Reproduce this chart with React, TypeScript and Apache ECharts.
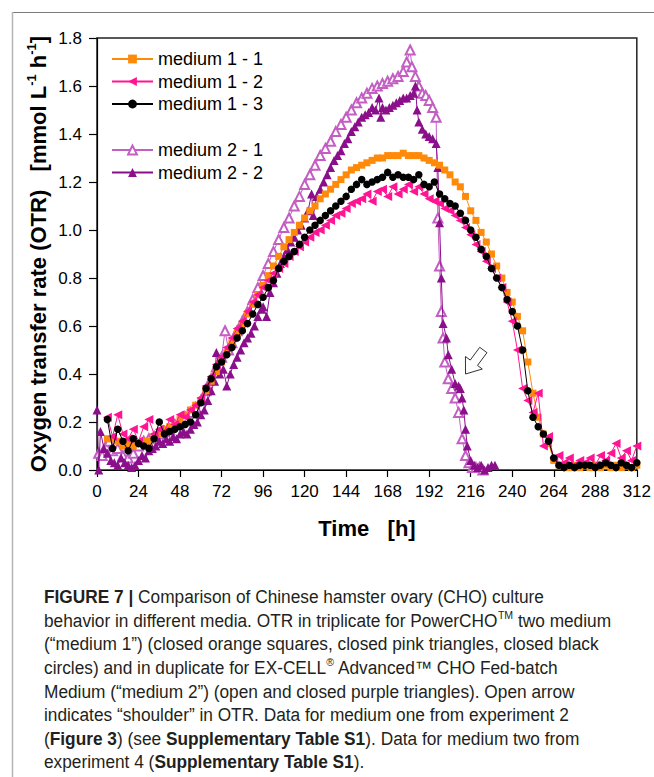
import React, { useEffect, useRef } from 'react';
import * as echarts from 'echarts';

// ---- axes ----
const X_MIN = 0;
const X_MAX = 312;
const X_INTERVAL = 24;
const Y_MIN = 0;
const Y_MAX = 1.8;
const Y_INTERVAL = 0.2;

// ---- medium 1 series: sampled every 3 h starting at 6 h ----
const M1_START = 6;
const M1_STEP = 3;

const MEDIUM_1_1 = [
  0.13, 0.13, 0.12, 0.10, 0.11, 0.10, 0.11, 0.12, 0.12, 0.14,
  0.15, 0.17, 0.18, 0.19, 0.21, 0.23, 0.25, 0.27, 0.29, 0.33,
  0.37, 0.41, 0.45, 0.49, 0.53, 0.57, 0.61, 0.65, 0.69, 0.73,
  0.77, 0.81, 0.85, 0.89, 0.93, 0.96, 0.99, 1.02, 1.05, 1.08,
  1.10, 1.13, 1.15, 1.17, 1.19, 1.21, 1.23, 1.25, 1.26, 1.27,
  1.28, 1.29, 1.30, 1.30, 1.31, 1.31, 1.31, 1.32, 1.31, 1.31,
  1.31, 1.30, 1.29, 1.28, 1.27, 1.25, 1.23, 1.20, 1.18, 1.14,
  1.08, 1.04, 0.99, 0.95, 0.90, 0.85, 0.80, 0.74, 0.70, 0.64,
  0.58, 0.45, 0.32, 0.22, 0.15, 0.11, 0.04, 0.02, 0.02, 0.01,
  0.02, 0.01, 0.02, 0.01, 0.02, 0.01, 0.02, 0.01, 0.02, 0.01,
  0.02, 0.01, 0.02,
];

const MEDIUM_1_2 = [
  0.22, 0.14, 0.23, 0.15, 0.13, 0.17, 0.12, 0.18, 0.21, 0.15,
  0.17, 0.16, 0.21, 0.19, 0.23, 0.22, 0.25, 0.27, 0.30, 0.35,
  0.39, 0.44, 0.47, 0.51, 0.55, 0.59, 0.62, 0.66, 0.70, 0.73,
  0.76, 0.79, 0.82, 0.84, 0.86, 0.89, 0.91, 0.93, 0.95, 0.97,
  0.99, 1.00, 1.02, 1.04, 1.06, 1.07, 1.09, 1.11, 1.12, 1.13,
  1.15, 1.12, 1.16, 1.17, 1.14, 1.18, 1.15, 1.17, 1.19, 1.16,
  1.18, 1.15, 1.13, 1.12, 1.11, 1.09, 1.08, 1.06, 1.04, 1.01,
  0.98, 0.94, 0.91, 0.87, 0.84, 0.80, 0.76, 0.70, 0.62, 0.50,
  0.34, 0.29, 0.24, 0.32, 0.10, 0.14, 0.05, 0.06, 0.03, 0.05,
  0.02, 0.04, 0.03, 0.05, 0.02, 0.06, 0.04, 0.07, 0.11, 0.05,
  0.08, 0.04, 0.10,
];

const MEDIUM_1_3 = [
  0.21, 0.09, 0.17, 0.12, 0.08, 0.13, 0.11, 0.10, 0.09, 0.13,
  0.20, 0.15, 0.16, 0.17, 0.18, 0.19, 0.20, 0.23, 0.28, 0.34,
  0.38, 0.43, 0.45, 0.48, 0.51, 0.55, 0.58, 0.61, 0.65, 0.69,
  0.72, 0.76, 0.79, 0.84, 0.87, 0.89, 0.91, 0.94, 0.97, 1.00,
  1.02, 1.04, 1.06, 1.08, 1.10, 1.12, 1.14, 1.17, 1.19, 1.21,
  1.19, 1.20, 1.21, 1.22, 1.24, 1.22, 1.23, 1.22, 1.22, 1.21,
  1.23, 1.19, 1.18, 1.20, 1.15, 1.13, 1.11, 1.10, 1.07, 1.04,
  1.00, 0.97, 0.92, 0.89, 0.84, 0.80, 0.76, 0.71, 0.66, 0.60,
  0.50, 0.33, 0.22, 0.18, 0.15, 0.12, 0.05, 0.02, 0.01, 0.02,
  0.01, 0.02, 0.02, 0.02, 0.01, 0.02, 0.03, 0.02, 0.01, 0.03,
  0.02, 0.01, 0.03,
];

// ---- medium 2 series: [time h, OTR] ----
const MEDIUM_2_1: [number, number][] = [
  [1, 0.07], [3, 0.06], [5, 0.10], [7, 0.12], [9, 0.08], [12, 0.09], [15, 0.06], [18, 0.05],
  [21, 0.07], [24, 0.10], [27, 0.12], [30, 0.13], [33, 0.14], [36, 0.15], [39, 0.16], [42, 0.17],
  [45, 0.19], [48, 0.20], [51, 0.22], [54, 0.24], [57, 0.26], [60, 0.29], [63, 0.33], [66, 0.38],
  [69, 0.43], [72, 0.47], [74, 0.58], [76, 0.50], [78, 0.53], [81, 0.58], [84, 0.62], [87, 0.66],
  [90, 0.71], [93, 0.76], [96, 0.81], [99, 0.86], [102, 0.91], [105, 0.96], [108, 1.01], [111, 1.05],
  [114, 1.10], [117, 1.14], [120, 1.19], [123, 1.23], [126, 1.27], [129, 1.31], [132, 1.34], [135, 1.37],
  [138, 1.41], [141, 1.44], [144, 1.47], [147, 1.50], [150, 1.53], [153, 1.55], [156, 1.57], [159, 1.59],
  [162, 1.60], [165, 1.61], [168, 1.62], [171, 1.63], [174, 1.64], [177, 1.66], [179, 1.70], [181, 1.75],
  [182, 1.68], [184, 1.64], [186, 1.60], [188, 1.57], [190, 1.56], [192, 1.54], [194, 1.51], [196, 1.47],
  [197, 1.05], [198, 0.85], [199, 0.66], [200, 0.55], [201, 0.45], [203, 0.38], [205, 0.34], [207, 0.30],
  [209, 0.24], [211, 0.13], [213, 0.06], [215, 0.03], [217, 0.01], [219, 0.01], [221, 0.01], [223, 0.00],
];

const MEDIUM_2_2: [number, number][] = [
  [0, 0.25], [1, 0.00], [2, 0.16], [4, 0.09], [6, 0.07], [8, 0.04], [10, 0.03], [12, 0.02],
  [14, 0.05], [16, 0.03], [18, 0.02], [20, 0.01], [22, 0.02], [24, 0.04], [26, 0.06], [28, 0.05],
  [30, 0.08], [32, 0.09], [34, 0.10], [36, 0.12], [38, 0.11], [40, 0.13], [42, 0.12], [44, 0.14],
  [46, 0.13], [48, 0.15], [50, 0.16], [52, 0.15], [54, 0.17], [56, 0.19], [58, 0.20], [60, 0.23],
  [62, 0.25], [64, 0.29], [66, 0.33], [68, 0.37], [69, 0.49], [71, 0.40], [73, 0.42], [75, 0.35],
  [77, 0.40], [79, 0.44], [81, 0.47], [83, 0.50], [85, 0.53], [87, 0.55], [89, 0.57], [91, 0.60],
  [93, 0.64], [95, 0.67], [96, 0.68], [98, 0.64], [100, 0.74], [102, 0.78], [104, 0.82], [106, 0.86],
  [108, 0.89], [110, 0.92], [112, 0.95], [114, 0.97], [116, 1.00], [118, 1.02], [120, 1.05], [122, 1.08],
  [124, 1.15], [125, 1.06], [127, 1.14], [129, 1.17], [131, 1.20], [133, 1.23], [135, 1.26], [137, 1.29],
  [139, 1.31], [141, 1.33], [143, 1.36], [145, 1.38], [147, 1.41], [149, 1.43], [151, 1.45], [153, 1.47],
  [155, 1.48], [157, 1.49], [159, 1.51], [161, 1.50], [163, 1.55], [164, 1.47], [165, 1.51], [167, 1.50],
  [169, 1.51], [171, 1.52], [173, 1.53], [175, 1.54], [177, 1.55], [179, 1.55], [181, 1.56], [183, 1.57],
  [184, 1.60], [185, 1.50], [186, 1.45], [188, 1.42], [190, 1.40], [192, 1.39], [194, 1.38], [196, 1.36],
  [197, 1.26], [198, 1.03], [199, 0.80], [200, 0.61], [202, 0.55], [203, 0.48], [205, 0.42], [207, 0.36],
  [209, 0.35], [210, 0.34], [211, 0.30], [212, 0.25], [213, 0.17], [214, 0.10], [216, 0.04], [218, 0.02],
  [220, 0.01], [222, 0.02], [224, 0.00], [226, 0.01], [228, 0.02], [230, 0.02],
];

const NAMES = ['medium 1 - 1', 'medium 1 - 2', 'medium 1 - 3', 'medium 2 - 1', 'medium 2 - 2'];

// annotation arrow (data coords of tip and tail)
const ARROW_TIP: [number, number] = [213, 0.40];
const ARROW_TAIL: [number, number] = [223.3, 0.50];

const CAPTION_LINES = [
  '{b|FIGURE 7 |}{n| Comparison of Chinese hamster ovary (CHO) culture}',
  '{n|behavior in different media. OTR in triplicate for PowerCHO}{s|TM}{n| two medium}',
  '{n|(\u201cmedium 1\u201d) (closed orange squares, closed pink triangles, closed black}',
  '{n|circles) and in duplicate for EX-CELL}{s|\u00ae}{n| Advanced\u2122 CHO Fed-batch}',
  '{n|Medium (\u201cmedium 2\u201d) (open and closed purple triangles). Open arrow}',
  '{n|indicates \u201cshoulder\u201d in OTR. Data for medium one from experiment 2}',
  '{n|(}{b|Figure 3}{n|) (see }{b|Supplementary Table S1}{n|). Data for medium two from}',
  '{n|experiment 4 (}{b|Supplementary Table S1}{n|).}',
];

const FONT = '"Liberation Sans", Arial, Helvetica, sans-serif';

function gridSeries(start: number, step: number, vals: number[]): [number, number][] {
  return vals.map((v, i) => [start + i * step, v]);
}

function buildOption(): any {
  const common = {
    type: 'line',
    showSymbol: true,
    lineStyle: { width: 1 },
    emphasis: { disabled: true },
  };
  const legendBase = {
    orient: 'vertical',
    left: 106,
    itemWidth: 41,
    itemHeight: 11,
    itemGap: 4.5,
    textStyle: { fontSize: 18, color: '#000', fontFamily: FONT },
    selectedMode: false,
  };
  return {
    animation: false,
    backgroundColor: '#ffffff',
    grid: {
      left: 97,
      top: 38,
      width: 540,
      height: 432,
      show: true,
      borderColor: '#222',
      borderWidth: 1.5,
      backgroundColor: 'transparent',
    },
    legend: [
      { ...legendBase, data: NAMES.slice(0, 3), top: 45 },
      { ...legendBase, data: NAMES.slice(3), top: 136 },
    ],
    xAxis: {
      type: 'value',
      min: X_MIN,
      max: X_MAX,
      interval: X_INTERVAL,
      axisLine: { show: true, onZero: false, lineStyle: { color: '#000', width: 1.2 } },
      axisTick: { show: true, inside: false, length: 7, lineStyle: { color: '#000', width: 1.2 } },
      axisLabel: { fontSize: 17, color: '#000', fontFamily: FONT, margin: 13 },
      splitLine: { show: false },
    },
    yAxis: {
      type: 'value',
      min: Y_MIN,
      max: Y_MAX,
      interval: Y_INTERVAL,
      axisLine: { show: true, onZero: false, lineStyle: { color: '#000', width: 1.2 } },
      axisTick: { show: true, inside: false, length: 8, lineStyle: { color: '#000', width: 1.2 } },
      axisLabel: {
        fontSize: 17,
        color: '#000',
        fontFamily: FONT,
        margin: 15,
        formatter: (v: number) => v.toFixed(1),
      },
      splitLine: { show: false },
    },
    series: [
      {
        ...common,
        name: NAMES[3],
        data: MEDIUM_2_1,
        symbol: 'emptyTriangle',
        symbolSize: 9,
        color: '#c35ec3',
        itemStyle: { color: '#c35ec3', borderWidth: 1 },
        lineStyle: { width: 1, color: '#c35ec3' },
        z: 2,
      },
      {
        ...common,
        name: NAMES[4],
        data: MEDIUM_2_2,
        symbol: 'triangle',
        symbolSize: 9,
        color: '#8b0f8b',
        itemStyle: { color: '#8b0f8b' },
        lineStyle: { width: 1, color: '#8b0f8b' },
        z: 3,
      },
      {
        ...common,
        name: NAMES[0],
        data: gridSeries(M1_START, M1_STEP, MEDIUM_1_1),
        symbol: 'rect',
        symbolSize: 7,
        color: '#ff8a0a',
        itemStyle: { color: '#ff8a0a' },
        lineStyle: { width: 1, color: '#ff8a0a' },
        z: 4,
      },
      {
        ...common,
        name: NAMES[1],
        data: gridSeries(M1_START, M1_STEP, MEDIUM_1_2),
        symbol: 'triangle',
        symbolRotate: 90,
        symbolSize: 9,
        color: '#ff1493',
        itemStyle: { color: '#ff1493' },
        lineStyle: { width: 1, color: '#ff1493' },
        z: 5,
      },
      {
        ...common,
        name: NAMES[2],
        data: gridSeries(M1_START, M1_STEP, MEDIUM_1_3),
        symbol: 'circle',
        symbolSize: 7.5,
        color: '#000000',
        itemStyle: { color: '#000000' },
        lineStyle: { width: 1, color: '#000000' },
        z: 6,
      },
    ],
  };
}

function buildGraphic(chart: any): any[] {
  const els: any[] = [];
  // outer figure frame (top and left edges)
  els.push({
    type: 'line',
    id: 'frameTop',
    shape: { x1: 12, y1: 12.5, x2: 654, y2: 12.5 },
    style: { stroke: '#7a7a7a', lineWidth: 1 },
    silent: true,
  });
  els.push({
    type: 'line',
    id: 'frameLeft',
    shape: { x1: 12.5, y1: 12, x2: 12.5, y2: 777 },
    style: { stroke: '#b4b4b4', lineWidth: 1.5 },
    silent: true,
  });

  // y axis title
  els.push({
    type: 'text',
    id: 'yTitle',
    x: 38,
    y: 254,
    rotation: Math.PI / 2,
    silent: true,
    style: {
      text: '{b|Oxygen transfer rate (OTR)   [mmol L}{s|-1}{b| h}{s|-1}{b|]}',
      align: 'center',
      verticalAlign: 'middle',
      rich: {
        b: { fontSize: 22, fontWeight: 'bold', fontFamily: FONT, fill: '#000', lineHeight: 27 },
        s: { fontSize: 13, fontWeight: 'bold', fontFamily: FONT, fill: '#000', verticalAlign: 'top' },
      },
    },
  });

  // x axis title
  els.push({
    type: 'text',
    id: 'xTitle',
    x: 367,
    y: 528,
    silent: true,
    style: {
      text: 'Time   [h]',
      fontSize: 22,
      fontWeight: 'bold',
      fontFamily: FONT,
      fill: '#000',
      align: 'center',
      verticalAlign: 'middle',
    },
  });

  // caption
  CAPTION_LINES.forEach((line, i) => {
    els.push({
      type: 'text',
      id: 'cap' + i,
      x: 44,
      y: 597 + i * 23.6,
      scaleX: 0.96,
      silent: true,
      style: {
        text: line,
        align: 'left',
        verticalAlign: 'middle',
        rich: {
          n: { fontSize: 18, fontFamily: FONT, fill: '#231f20', lineHeight: 22 },
          b: { fontSize: 18, fontWeight: 'bold', fontFamily: FONT, fill: '#231f20', lineHeight: 22 },
          s: { fontSize: 11, fontFamily: FONT, fill: '#231f20', verticalAlign: 'top' },
        },
      },
    });
  });

  // open arrow annotation
  const tip = chart.convertToPixel({ gridIndex: 0 }, ARROW_TIP);
  const tail = chart.convertToPixel({ gridIndex: 0 }, ARROW_TAIL);
  if (tip && tail) {
    const dx = tip[0] - tail[0];
    const dy = tip[1] - tail[1];
    const len = Math.sqrt(dx * dx + dy * dy);
    const ux = dx / len;
    const uy = dy / len;
    const nx = -uy;
    const ny = ux;
    const headLen = 14;
    const headHalf = 10.5;
    const shaftHalf = 4.5;
    const bx = tip[0] - ux * headLen;
    const by = tip[1] - uy * headLen;
    const pts = [
      [tip[0], tip[1]],
      [bx + nx * headHalf, by + ny * headHalf],
      [bx + nx * shaftHalf, by + ny * shaftHalf],
      [tail[0] + nx * shaftHalf, tail[1] + ny * shaftHalf],
      [tail[0] - nx * shaftHalf, tail[1] - ny * shaftHalf],
      [bx - nx * shaftHalf, by - ny * shaftHalf],
      [bx - nx * headHalf, by - ny * headHalf],
    ];
    els.push({
      type: 'polygon',
      id: 'arrow',
      silent: true,
      z: 100,
      shape: { points: pts },
      style: { fill: '#ffffff', stroke: '#333333', lineWidth: 1 },
    });
  }
  return els;
}

export default function App() {
  const ref = useRef<HTMLDivElement>(null);
  useEffect(() => {
    if (!ref.current) return;
    const chart = echarts.init(ref.current, null, { renderer: 'svg' });
    chart.setOption(buildOption());
    chart.setOption({ graphic: buildGraphic(chart) });
    return () => {
      chart.dispose();
    };
  }, []);
  return (
    <div
      ref={ref}
      style={{ position: 'fixed', left: 0, top: 0, width: 654, height: 777, background: '#ffffff' }}
    />
  );
}
